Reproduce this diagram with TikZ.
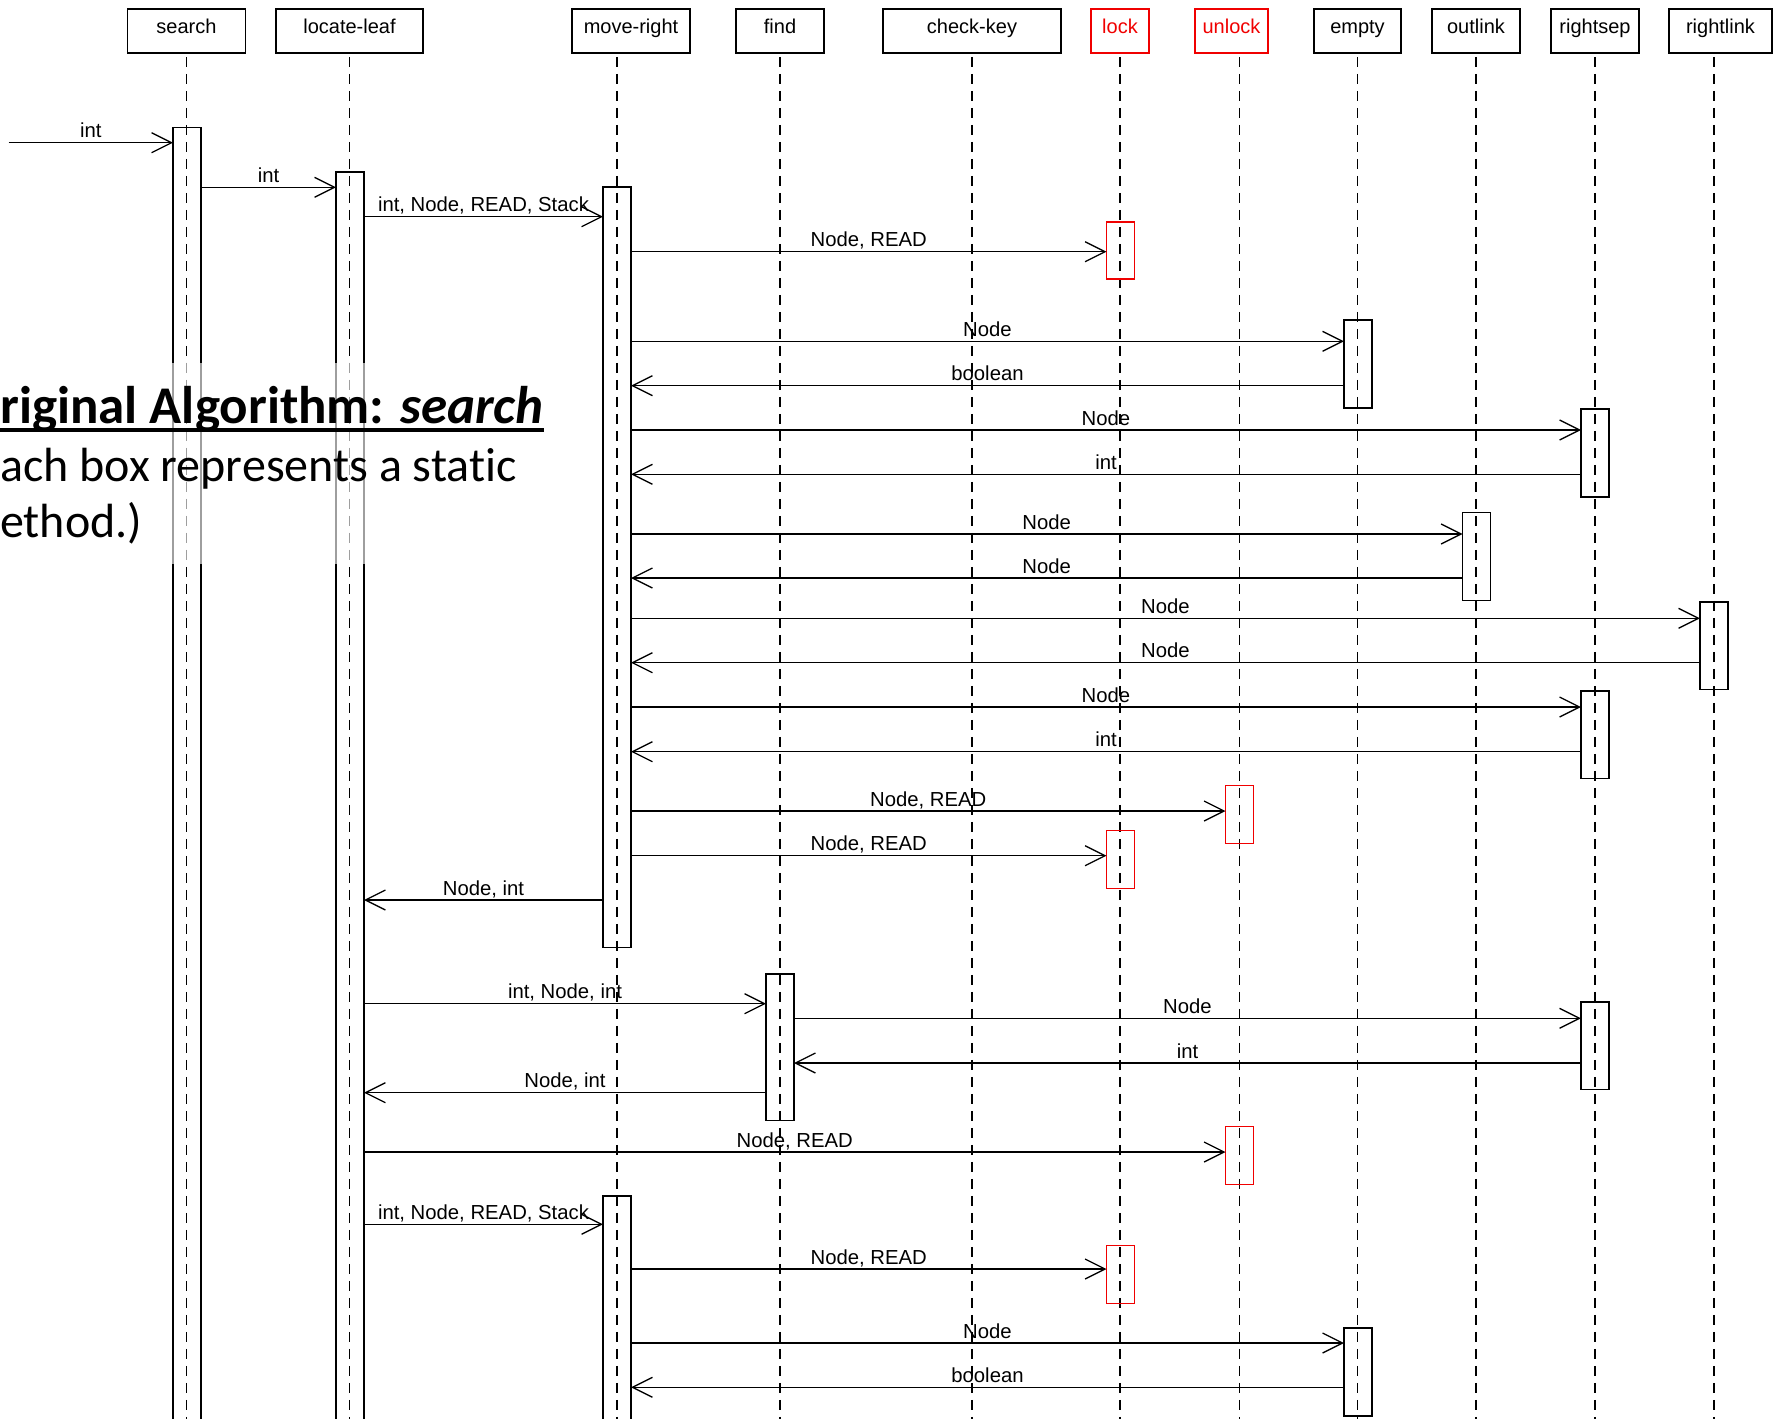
\documentclass[tikz,border=0pt]{standalone}
\usepackage{fontspec}
\setmainfont{Liberation Sans}
\newfontfamily\carlito[Ligatures=NoCommon]{Carlito}
\usetikzlibrary{arrows.meta}
\definecolor{umlred}{RGB}{240,0,0}
\begin{document}
\begin{tikzpicture}[x=1pt,y=-1pt,
  hdr/.style={draw, line width=1.5pt, minimum height=44pt, inner sep=0pt,
    text height=14pt, text depth=9.4pt, font=\fontsize{20}{24}\selectfont},
  life/.style={line width=1.3pt, dash pattern=on 10.5pt off 6.5pt},
  act/.style={draw, line width=1.5pt, minimum width=28pt, inner sep=0pt, outer sep=0pt},
  msg/.style={line width=1.3pt, -{Straight Barb[length=20pt,width=20pt,line width=1.3pt]}},
  lbl/.style={midway, anchor=base, yshift=5pt, inner sep=0pt, font=\fontsize{20.3}{24}\selectfont},
]
\useasboundingbox (0,0) rectangle (1778,1419);
\clip (0,0) rectangle (1778,1419);

% header boxes
\node[hdr, minimum width=118pt] (hsearch) at (186.5,31) {search};
\node[hdr, minimum width=147pt] (hlocate) at (349.5,31) {locate-leaf};
\node[hdr, minimum width=118pt] (hmove) at (631,31) {move-right};
\node[hdr, minimum width=88pt] (hfind) at (780,31) {find};
\node[hdr, minimum width=178pt] (hcheck) at (972,31) {check-key};
\node[hdr, umlred, minimum width=58pt] (hlock) at (1120,31) {lock};
\node[hdr, umlred, minimum width=73pt] (hunlock) at (1231.5,31) {unlock};
\node[hdr, minimum width=87pt] (hempty) at (1357.5,31) {empty};
\node[hdr, minimum width=88pt] (houtlink) at (1476,31) {outlink};
\node[hdr, minimum width=88pt] (hrightsep) at (1595,31) {rightsep};
\node[hdr, minimum width=103pt] (hrightlink) at (1720.5,31) {rightlink};

% lifelines
\draw[life] ([yshift=-3pt]hsearch.south) -- ++(0,1420);
\draw[life] ([yshift=-3pt]hlocate.south) -- ++(0,1420);
\draw[life] ([xshift=-14pt,yshift=-3pt]hmove.south) -- ++(0,1420);
\draw[life] ([yshift=-3pt]hfind.south) -- ++(0,1420);
\draw[life] ([yshift=-3pt]hcheck.south) -- ++(0,1420);
\draw[life] ([yshift=-3pt]hlock.south) -- ++(0,1420);
\draw[life] ([xshift=8pt,yshift=-3pt]hunlock.south) -- ++(0,1420);
\draw[life] ([yshift=-3pt]hempty.south) -- ++(0,1420);
\draw[life] ([yshift=-3pt]houtlink.south) -- ++(0,1420);
\draw[life] ([yshift=-3pt]hrightsep.south) -- ++(0,1420);
\draw[life] ([xshift=-6.5pt,yshift=-3pt]hrightlink.south) -- ++(0,1420);

% activation boxes
\node[act, minimum height=1322.3pt] (sA) at (187,788.85) {};
\node[act, minimum height=1278pt] (lA) at (350,811) {};
\node[act, minimum height=760.5pt] (mA1) at (617,567.25) {};
\node[act, umlred, minimum height=57pt] (lk1) at (1120.5,250.5) {};
\node[act, minimum height=88pt] (em1) at (1358,364) {};
\node[act, minimum height=88pt] (rs1) at (1595,453) {};
\node[act, minimum height=88pt] (ol) at (1476.5,556.7) {};
\node[act, minimum height=87.3pt] (rl) at (1714,645.65) {};
\node[act, minimum height=87.3pt] (rs2) at (1595,734.65) {};
\node[act, umlred, minimum height=58pt] (ul1) at (1239.5,814.7) {};
\node[act, umlred, minimum height=58pt] (lk2) at (1120.5,859.3) {};
\node[act, minimum height=146.7pt] (fd) at (780,1047.35) {};
\node[act, minimum height=87.7pt] (rs3) at (1595,1045.85) {};
\node[act, umlred, minimum height=58pt] (ul2) at (1239.5,1155.7) {};
\node[act, minimum height=254pt] (mA2) at (617,1323) {};
\node[act, umlred, minimum height=58pt] (lk3) at (1120.5,1274.3) {};
\node[act, minimum height=88pt] (em2) at (1358,1372) {};

% messages
\coordinate (in0) at (8.5,142.7);
\draw[msg] (in0) -- node[lbl]{int} (sA.west |- in0);
\draw[msg] (sA.east |- 0,187.3) -- node[lbl]{int} (lA.west |- 0,187.3);
\draw[msg] (lA.east |- 0,216.7) -- node[lbl]{int, Node, READ, Stack} (mA1.west |- 0,216.7);
\draw[msg] (mA1.east |- 0,251.7) -- node[lbl]{Node, READ} (lk1.west |- 0,251.7);
\draw[msg] (mA1.east |- 0,341.3) -- node[lbl]{Node} (em1.west |- 0,341.3);
\draw[msg] (em1.west |- 0,385.7) -- node[lbl]{boolean} (mA1.east |- 0,385.7);
\draw[msg] (mA1.east |- 0,430) -- node[lbl]{Node} (rs1.west |- 0,430);
\draw[msg] (rs1.west |- 0,474.3) -- node[lbl]{int} (mA1.east |- 0,474.3);
\draw[msg] (mA1.east |- 0,534) -- node[lbl]{Node} (ol.west |- 0,534);
\draw[msg] (ol.west |- 0,578) -- node[lbl]{Node} (mA1.east |- 0,578);
\draw[msg] (mA1.east |- 0,618.3) -- node[lbl]{Node} (rl.west |- 0,618.3);
\draw[msg] (rl.west |- 0,662.7) -- node[lbl]{Node} (mA1.east |- 0,662.7);
\draw[msg] (mA1.east |- 0,707) -- node[lbl]{Node} (rs2.west |- 0,707);
\draw[msg] (rs2.west |- 0,751.7) -- node[lbl]{int} (mA1.east |- 0,751.7);
\draw[msg] (mA1.east |- 0,811) -- node[lbl]{Node, READ} (ul1.west |- 0,811);
\draw[msg] (mA1.east |- 0,855.7) -- node[lbl]{Node, READ} (lk2.west |- 0,855.7);
\draw[msg] (mA1.west |- 0,900) -- node[lbl]{Node, int} (lA.east |- 0,900);
\draw[msg] (lA.east |- 0,1003.7) -- node[lbl]{int, Node, int} (fd.west |- 0,1003.7);
\draw[msg] (fd.east |- 0,1018.3) -- node[lbl]{Node} (rs3.west |- 0,1018.3);
\draw[msg] (rs3.west |- 0,1063) -- node[lbl]{int} (fd.east |- 0,1063);
\draw[msg] (fd.west |- 0,1092.7) -- node[lbl]{Node, int} (lA.east |- 0,1092.7);
\draw[msg] (lA.east |- 0,1152) -- node[lbl]{Node, READ} (ul2.west |- 0,1152);
\draw[msg] (lA.east |- 0,1224.3) -- node[lbl]{int, Node, READ, Stack} (mA2.west |- 0,1224.3);
\draw[msg] (mA2.east |- 0,1269) -- node[lbl]{Node, READ} (lk3.west |- 0,1269);
\draw[msg] (mA2.east |- 0,1343) -- node[lbl]{Node} (em2.west |- 0,1343);
\draw[msg] (em2.west |- 0,1387.3) -- node[lbl]{boolean} (mA2.east |- 0,1387.3);

% overlay text
\fill[white, opacity=0.62] (0,363) rectangle (560,564);
\node[anchor=base west, inner sep=0pt, font=\carlito\fontsize{53}{60}\selectfont\bfseries] (t1) at (0,423) {riginal Algorithm: \textit{search}};
\draw[line width=4pt] (0,429.5) -- (t1.east |- 0,429.5);
\node[anchor=base west, inner sep=0pt, font=\carlito\fontsize{48}{56}\selectfont] (t2) at (0,481) {ach box represents a static};
\node[anchor=base west, inner sep=0pt, font=\carlito\fontsize{48}{56}\selectfont] (t3) at (0,537) {ethod.)};
\end{tikzpicture}
\end{document}
